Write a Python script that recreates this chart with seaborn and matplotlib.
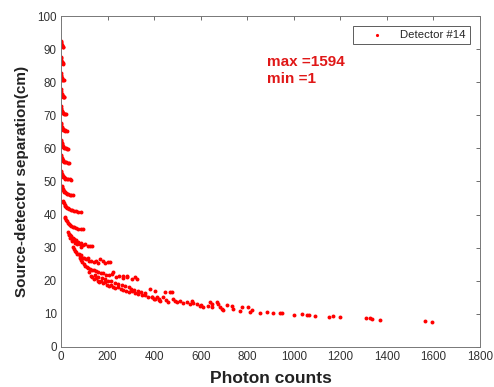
import matplotlib
matplotlib.use("Agg")
import matplotlib.pyplot as plt
import seaborn as sns
import pandas as pd

# ---- data (photon counts vs source-detector separation) ----
x_c1 = [0.5, 1, 1.5, 2, 3, 4, 5, 7, 9]
y_c1 = [92.6, 92.2, 91.8, 91.5, 91.2, 91.0, 90.8, 90.6, 90.5]
x_c2 = [0.5, 1, 1.5, 2, 3, 4, 6, 8, 10]
y_c2 = [87.6, 87.2, 86.8, 86.5, 86.2, 86.0, 85.8, 85.7, 85.6]
x_c3 = [0.5, 1, 1.5, 2, 3, 4, 6, 8, 11]
y_c3 = [82.8, 82.3, 81.9, 81.5, 81.2, 81.0, 80.8, 80.7, 80.6]
x_c4 = [0.5, 1, 2, 3, 4, 5, 7, 9, 12, 14]
y_c4 = [77.8, 77.3, 76.8, 76.4, 76.1, 75.9, 75.7, 75.6, 75.5, 75.4]
x_c5 = [0.5, 1, 2, 3, 4, 6, 8, 10, 13, 17, 22]
y_c5 = [72.8, 72.3, 71.8, 71.4, 71.1, 70.9, 70.8, 70.6, 70.5, 70.4, 70.3]
x_c6 = [0.5, 1, 2, 3, 5, 7, 9, 12, 15, 19, 25]
y_c6 = [67.8, 67.3, 66.8, 66.4, 66.1, 65.9, 65.7, 65.6, 65.5, 65.4, 65.3]
x_c7 = [1, 2, 3, 4, 6, 8, 10, 13, 16, 20, 25, 30]
y_c7 = [62.6, 62.1, 61.6, 61.2, 60.8, 60.6, 60.4, 60.2, 60.1, 60.0, 59.9, 59.8]
x_c8 = [1, 2, 3, 4, 6, 8, 10, 13, 17, 22, 28, 35]
y_c8 = [58.0, 57.6, 57.2, 56.9, 56.6, 56.4, 56.2, 56.0, 55.9, 55.8, 55.7, 55.6]
x_c9 = [1, 2, 3, 5, 7, 9, 12, 15, 19, 24, 30, 38, 45]
y_c9 = [53.2, 52.8, 52.4, 52.0, 51.7, 51.5, 51.3, 51.1, 50.9, 50.8, 50.7, 50.6, 50.5]
x_c10 = [4, 5, 7, 9, 11, 14, 17, 21, 26, 32, 38, 45, 52]
y_c10 = [48.6, 48.2, 47.8, 47.5, 47.2, 46.9, 46.7, 46.5, 46.3, 46.1, 46.0, 45.9, 45.8]
x_c11 = [8, 10, 12, 15, 18, 22, 26, 30, 35, 41, 48, 56, 65, 75, 85]
y_c11 = [44.2, 43.8, 43.4, 43.0, 42.7, 42.4, 42.1, 41.9, 41.7, 41.5, 41.3, 41.1, 41.0, 40.9, 40.8]
x_c12 = [17, 19, 22, 25, 29, 33, 38, 44, 50, 57, 65, 74, 84, 95]
y_c12 = [39.4, 38.9, 38.4, 38.0, 37.6, 37.2, 36.9, 36.6, 36.3, 36.1, 35.9, 35.7, 35.6, 35.5]
x_c13 = [30, 33, 35, 37, 40, 41, 45, 48, 50, 55, 58, 60, 66, 70, 72, 80, 85, 88, 96, 105, 115, 125, 132]
y_c13 = [34.8, 34.2, 33.8, 33.8, 33.0, 33.5, 33.0, 32.0, 32.8, 32.5, 31.4, 32.0, 32.3, 31.0, 31.6,
         31.2, 30.2, 31.5, 30.8, 31.0, 30.6, 30.4, 30.6]
x_c14 = [52, 56, 60, 65, 70, 76, 82, 88, 95, 100, 108, 115, 122, 130, 140, 150, 160, 168, 180, 190, 202, 210]
y_c14 = [30.2, 29.5, 29.0, 28.8, 28.2, 28.0, 27.5, 27.8, 27.0, 26.8, 26.5, 26.8, 26.0, 25.9, 25.6,
         26.0, 25.4, 26.5, 26.0, 25.5, 25.7, 25.8]
x_c15 = [82, 86, 92, 98, 104, 110, 118, 126, 134, 142, 150, 160, 170, 180, 192, 205, 220, 224, 235, 250,
         266, 268, 283, 285, 305, 318, 325]
y_c15 = [27.0, 26.2, 25.6, 25.0, 24.6, 24.2, 23.8, 23.5, 23.2, 23.4, 22.8, 22.6, 22.2, 22.4, 21.8, 21.6,
         21.9, 22.6, 21.2, 21.5, 21.5, 20.9, 21.5, 21.0, 20.6, 21.0, 20.5]
x_c16 = [120, 128, 135, 142, 150, 158, 165, 172, 180, 188, 196, 205, 214, 224, 234, 245, 256, 268, 280,
         292, 305, 318, 332, 346, 360, 375, 390, 405, 420]
y_c16 = [22.5, 21.5, 21.0, 20.5, 20.8, 20.0, 19.6, 19.8, 19.2, 19.5, 18.8, 18.5, 18.8, 18.2, 17.8, 18.0,
         17.4, 17.2, 17.0, 16.6, 16.8, 16.2, 16.0, 15.6, 15.8, 15.2, 15.0, 14.6, 14.5]
x_c17 = [145, 160, 175, 190, 200, 215, 230, 245, 260, 275, 290, 300, 315, 330, 345, 360]
y_c17 = [21.8, 21.2, 20.8, 20.4, 20.0, 19.8, 19.4, 19.0, 18.6, 18.4, 18.0, 17.6, 17.2, 16.8, 16.6, 16.2]
x_mid = [382, 390, 398, 405, 412, 420, 425, 438, 447, 452, 460, 468, 475, 481, 490, 498, 511, 525, 540,
         555, 561, 567, 584, 595, 602, 610, 630, 640, 647, 650, 669, 676, 683, 690, 696, 712, 733, 739]
y_mid = [17.5, 15.2, 14.6, 17.0, 15.0, 14.2, 13.9, 15.0, 16.6, 14.2, 13.6, 16.6, 16.6, 14.5, 13.8, 13.5,
         13.9, 13.2, 13.5, 13.0, 14.0, 13.3, 13.0, 12.4, 12.8, 12.0, 12.3, 13.5, 13.0, 12.2, 13.5, 13.0,
         12.0, 11.6, 11.2, 12.6, 12.3, 11.6]
x_tail = [769, 776, 805, 812, 822, 855, 884, 909, 941, 948, 1002, 1034, 1058, 1067, 1091, 1153, 1167,
          1198, 1310, 1327, 1337, 1370, 1564, 1592]
y_tail = [10.9, 12.0, 12.1, 10.7, 11.1, 10.4, 10.6, 10.2, 10.4, 10.4, 9.7, 9.9, 9.6, 9.6, 9.4, 9.2, 9.3,
          9.1, 8.8, 8.7, 8.4, 8.2, 7.7, 7.6]

photon_counts = (x_c1 + x_c2 + x_c3 + x_c4 + x_c5 + x_c6 + x_c7 + x_c8 + x_c9 + x_c10 + x_c11 + x_c12
                 + x_c13 + x_c14 + x_c15 + x_c16 + x_c17 + x_mid + x_tail)
separation = (y_c1 + y_c2 + y_c3 + y_c4 + y_c5 + y_c6 + y_c7 + y_c8 + y_c9 + y_c10 + y_c11 + y_c12
              + y_c13 + y_c14 + y_c15 + y_c16 + y_c17 + y_mid + y_tail)

x_ticks = [0, 200, 400, 600, 800, 1000, 1200, 1400, 1600, 1800]
y_ticks = [0, 10, 20, 30, 40, 50, 60, 70, 80, 90, 100]
series_label = "Detector #14"
annot_lines = ["max =1594", "min =1"]

df = pd.DataFrame({"Photon counts": photon_counts, "Separation": separation})

sns.set_style("white")
plt.rcParams["font.family"] = ["Liberation Sans", "DejaVu Sans"]

fig = plt.figure(figsize=(4.94, 3.87), dpi=100)
ax = fig.add_axes([0.1235, 0.1035, 0.8482, 0.8551])

sns.scatterplot(data=df, x="Photon counts", y="Separation", ax=ax, color="#ff0000",
                s=8, linewidth=0, marker="o", label=series_label)

ax.set_xlim(0, 1800)
ax.set_ylim(0, 100)
ax.set_xticks(x_ticks)
ax.set_yticks(y_ticks)
ax.tick_params(axis="both", which="both", direction="in", length=3, width=0.6,
               colors="#555555", labelcolor="#333333", labelsize=8.4,
               top=True, right=True, pad=3)
for sp in ax.spines.values():
    sp.set_color("#777777")
    sp.set_linewidth(0.7)

ax.set_xlabel("Photon counts", fontsize=12.5, fontweight="bold", color="#222222", labelpad=6)
ax.set_ylabel("Source-detector separation(cm)", fontsize=11, fontweight="bold", color="#222222",
              labelpad=6)

ax.text(885, 86.2, annot_lines[0], fontsize=11, fontweight="bold", color="#e01818",
        ha="left", va="center")
ax.text(885, 81.1, annot_lines[1], fontsize=11, fontweight="bold", color="#e01818",
        ha="left", va="center")

leg = ax.legend(loc="upper right", bbox_to_anchor=(0.976, 0.970), borderaxespad=0,
                fontsize=8.2, frameon=True, fancybox=False, handletextpad=0.35,
                borderpad=0.35, handlelength=3.5, markerscale=0.8)
leg.get_frame().set_edgecolor("#333333")
leg.get_frame().set_linewidth(0.7)

fig.savefig("out.png", dpi=100)
